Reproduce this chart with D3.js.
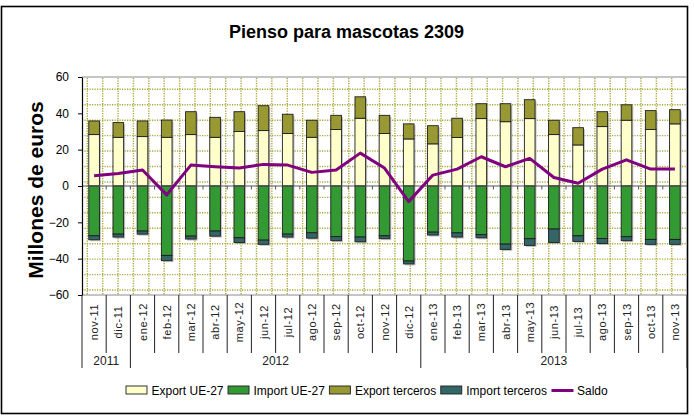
<!DOCTYPE html>
<html>
<head>
<meta charset="utf-8">
<script src="https://cdn.jsdelivr.net/npm/d3@7"></script>
<style>
  html, body { margin: 0; padding: 0; background: #fff; }
  svg { display: block; font-family: "Liberation Sans", Arial, sans-serif; }
</style>
</head>
<body>
<svg id="chart" width="694" height="416"></svg>
<script>
// Monthly trade of pet food (2309), millions of euros
const months = ["nov-11","dic-11","ene-12","feb-12","mar-12","abr-12","may-12","jun-12","jul-12","ago-12","sep-12","oct-12","nov-12","dic-12","ene-13","feb-13","mar-13","abr-13","may-13","jun-13","jul-13","ago-13","sep-13","oct-13","nov-13"];
const years = [
  { label: "2011", from: "nov-11", to: "dic-11" },
  { label: "2012", from: "ene-12", to: "dic-12" },
  { label: "2013", from: "ene-13", to: "nov-13" }
];
const exportUE =       [28.3, 26.8, 27.2, 26.8, 28.3, 26.8, 30.0, 30.5, 28.9, 26.8, 31.1, 37.3, 28.9, 25.9, 23.2, 26.7, 37.1, 35.4, 37.1, 28.3, 22.6, 32.7, 36.2, 31.1, 34.2];
const exportTerceros = [ 7.5,  8.1,  8.6,  9.5, 12.6, 11.0, 10.9, 13.7, 10.6,  9.4,  7.8, 11.8, 10.0,  8.3, 10.0, 10.6,  8.2,  9.9, 10.4,  7.9,  9.5,  8.2,  8.5, 10.4,  7.8];
const importUE =       [-27.4, -26.5, -24.8, -38.2, -27.6, -24.8, -28.5, -29.8, -26.5, -25.8, -27.9, -28.1, -27.4, -41.3, -25.4, -25.8, -26.8, -32.0, -29.0, -23.7, -27.4, -28.9, -27.9, -29.4, -29.4];
const importTerceros = [ -2.2,  -1.6,  -1.7,  -2.9,  -1.6,  -2.8,  -2.6,  -2.3,  -1.6,  -2.9,  -2.2,  -2.6,  -1.6,  -1.6,  -1.6,  -2.3,  -1.7,  -2.9,  -3.7,  -7.4,  -3.1,  -2.7,  -2.2,  -2.7,  -2.7];
const saldo =          [5.7, 6.9, 8.8, -4.9, 11.5, 10.6, 9.9, 11.9, 11.5, 7.5, 8.8, 18.1, 9.9, -8.6, 6.0, 9.3, 16.1, 10.6, 15.2, 4.7, 1.5, 9.3, 14.4, 9.3, 9.3];
const yTicks = [-60, -40, -20, 0, 20, 40, 60];

const series = [
  { name: "Export UE-27",    values: exportUE,       color: "#FFFFCC", base: null },
  { name: "Import UE-27",    values: importUE,       color: "#339933", base: null },
  { name: "Export terceros", values: exportTerceros, color: "#999933", base: exportUE },
  { name: "Import terceros", values: importTerceros, color: "#336666", base: importUE }
];

const svg = d3.select("#chart");
const plot = { left: 82, right: 687, top: 77, bottom: 295 };

const x = d3.scaleBand().domain(months).range([plot.left, plot.right]).paddingInner(0.56).paddingOuter(0.28);
const y = d3.scaleLinear().domain([-60, 60]).range([plot.bottom, plot.top]);
const step = x.step();
const edge = m => x(m) - x.bandwidth() * 0 - (step - x.bandwidth()) / 2;

// Outer frame
svg.append("rect").attr("x", 1.5).attr("y", 6.5).attr("width", 686).attr("height", 407)
  .attr("fill", "#fff").attr("stroke", "#000").attr("stroke-width", 1.6);

// Title
svg.append("text").attr("x", 346.5).attr("y", 37.5).attr("text-anchor", "middle")
  .attr("font-size", 18).attr("font-weight", "bold").text("Pienso para mascotas 2309");

// Dotted background grid of the plot area
const grid = svg.append("g").attr("stroke", "#a8a83a").attr("stroke-width", 1.4).attr("stroke-dasharray", "1.2,1.3");
d3.range(87.3, plot.right - 2, 15.38).forEach(gx => {
  grid.append("line").attr("x1", gx).attr("x2", gx).attr("y1", plot.top + 1).attr("y2", plot.bottom);
});
d3.range(89.3, plot.bottom, 15.44).forEach(gy => {
  grid.append("line").attr("x1", plot.left).attr("x2", plot.right).attr("y1", gy).attr("y2", gy);
});

// Plot area top and bottom edges
svg.append("line").attr("x1", plot.left).attr("x2", plot.right).attr("y1", plot.top).attr("y2", plot.top)
  .attr("stroke", "#8c8c8c").attr("stroke-width", 1);
svg.append("line").attr("x1", plot.left).attr("x2", plot.right).attr("y1", plot.bottom).attr("y2", plot.bottom)
  .attr("stroke", "#8c8c8c").attr("stroke-width", 1);

// Stacked bars
const bars = svg.append("g");
// soft drop shadow behind each stack
months.forEach((m, i) => {
  const top = exportUE[i] + exportTerceros[i];
  const bot = importUE[i] + importTerceros[i];
  bars.append("rect").attr("x", x(m) + 1.5).attr("y", y(top) + 1.5)
    .attr("width", x.bandwidth()).attr("height", y(bot) - y(top))
    .attr("fill", "#9a9a9a").attr("opacity", 0.6);
});
series.forEach(s => {
  bars.selectAll(null).data(months).join("rect")
    .attr("x", d => x(d))
    .attr("y", (d, i) => {
      const b = s.base ? s.base[i] : 0;
      return y(Math.max(b, b + s.values[i]));
    })
    .attr("width", x.bandwidth())
    .attr("height", (d, i) => Math.abs(y(0) - y(s.values[i])))
    .attr("fill", s.color)
    .attr("stroke", "#1e1e1e").attr("stroke-width", 0.9);
});

// Zero line with category ticks
svg.append("line").attr("x1", plot.left).attr("x2", plot.right).attr("y1", y(0)).attr("y2", y(0))
  .attr("stroke", "#555").attr("stroke-width", 1.2);
svg.append("g").selectAll("line").data(months.slice(1)).join("line")
  .attr("x1", d => edge(d)).attr("x2", d => edge(d))
  .attr("y1", y(0)).attr("y2", y(0) + 3.5)
  .attr("stroke", "#555").attr("stroke-width", 1);

// Saldo line
svg.append("path")
  .datum(saldo)
  .attr("fill", "none").attr("stroke", "#800080").attr("stroke-width", 3).attr("stroke-linejoin", "round")
  .attr("d", d3.line().x((d, i) => x(months[i]) + x.bandwidth() / 2).y(d => y(d)));

// Value axis
const yAxis = svg.append("g").attr("transform", `translate(${plot.left},0)`)
  .call(d3.axisLeft(y).tickValues(yTicks).tickSize(4).tickPadding(9).tickSizeOuter(0));
yAxis.select(".domain").attr("stroke", "#000").attr("stroke-width", 1.2);
yAxis.selectAll(".tick line").attr("stroke", "#000");
yAxis.selectAll(".tick text").attr("font-size", 12).attr("font-family", "Liberation Sans, Arial, sans-serif").attr("fill", "#000");

svg.append("text")
  .attr("transform", "translate(43,190) rotate(-90)")
  .attr("text-anchor", "middle").attr("font-size", 21).attr("font-weight", "bold")
  .text("Millones de euros");

// Category axis: month row and year row
const catAxis = svg.append("g");
const monthRowBottom = 353, yearRowBottom = 368;
const yearStarts = new Set(years.map(d => d.from));
months.forEach(m => {
  const bx = edge(m);
  catAxis.append("line").attr("x1", bx).attr("x2", bx).attr("y1", plot.bottom)
    .attr("y2", yearStarts.has(m) ? yearRowBottom : monthRowBottom)
    .attr("stroke", "#222").attr("stroke-width", 1);
});
catAxis.append("line").attr("x1", plot.right).attr("x2", plot.right).attr("y1", plot.bottom).attr("y2", yearRowBottom)
  .attr("stroke", "#222");
catAxis.selectAll("text.month").data(months).join("text")
  .attr("class", "month")
  .attr("transform", d => `translate(${x(d) + x.bandwidth() / 2 + 4},322) rotate(-90)`)
  .attr("text-anchor", "middle").attr("font-size", 11).attr("fill", "#222")
  .attr("letter-spacing", 0.6)
  .text(d => d);
catAxis.selectAll("text.year").data(years).join("text")
  .attr("class", "year")
  .attr("x", d => (edge(d.from) + edge(d.to) + step) / 2)
  .attr("y", 365)
  .attr("text-anchor", "middle").attr("font-size", 12).attr("fill", "#222")
  .text(d => d.label);

// Legend
const legend = svg.append("g").attr("font-size", 12);
let lx = 126;
const ly = 390;
const legendItems = [
  { name: "Export UE-27", color: "#FFFFCC", type: "box" },
  { name: "Import UE-27", color: "#339933", type: "box" },
  { name: "Export terceros", color: "#999933", type: "box" },
  { name: "Import terceros", color: "#336666", type: "box" },
  { name: "Saldo", color: "#800080", type: "line" }
];
legendItems.forEach(item => {
  if (item.type === "box") {
    legend.append("rect").attr("x", lx).attr("y", ly - 4).attr("width", 21).attr("height", 8)
      .attr("fill", item.color).attr("stroke", "#1e1e1e").attr("stroke-width", 0.9);
  } else {
    legend.append("line").attr("x1", lx).attr("x2", lx + 22).attr("y1", ly + 0.5).attr("y2", ly + 0.5)
      .attr("stroke", item.color).attr("stroke-width", 3);
  }
  const t = legend.append("text").attr("x", lx + 25.5).attr("y", ly + 4.5).text(item.name);
  lx += 25.5 + t.node().getComputedTextLength() + 4.5;
});
</script>
</body>
</html>
